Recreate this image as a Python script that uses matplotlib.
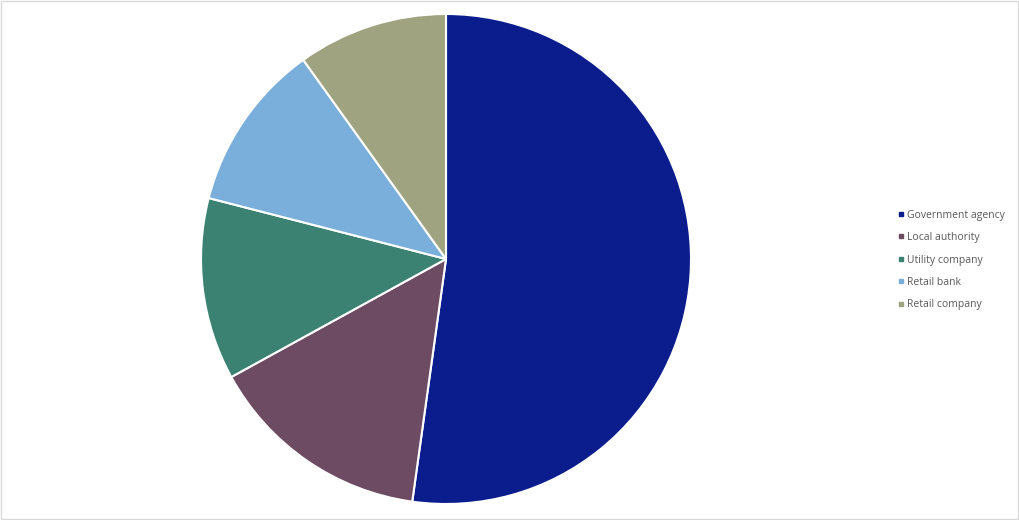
import matplotlib.pyplot as plt
from matplotlib.lines import Line2D
from matplotlib.patches import Rectangle

labels = ['Government agency', 'Local authority', 'Utility company', 'Retail bank', 'Retail company']
values = [52.2, 14.8, 12.0, 11.1, 9.9]
colors = ['#0B1D8C', '#6D4B63', '#3B8272', '#7AAEDB', '#9FA37F']

plt.rcParams['font.family'] = ['Open Sans', 'DejaVu Sans']

fig = plt.figure(figsize=(10.2, 5.2), dpi=100)
# pie centred at (446, 259) px, radius ~245 px
ax = fig.add_axes([(446 - 245) / 1020, 1 - (259 + 245) / 520, 490 / 1020, 490 / 520])
ax.pie(values, colors=colors, startangle=90, counterclock=False,
       wedgeprops=dict(edgecolor='white', linewidth=1.5), radius=1.0)
ax.set_xlim(-1.0, 1.0)
ax.set_ylim(-1.0, 1.0)
ax.set_aspect('equal')

handles = [Line2D([0], [0], marker='s', linestyle='none', markersize=3.5,
                  markerfacecolor=c, markeredgecolor=c) for c in colors]
fig.legend(handles, labels, loc='center left', bbox_to_anchor=(0.872, 0.50),
           frameon=False, fontsize=7.5, labelcolor='#595959', handlelength=0.5,
           handletextpad=0.3, labelspacing=1.1)

# thin chart border
fig.patches.append(Rectangle((0.0005, 0.001), 0.998, 0.997, transform=fig.transFigure,
                             fill=False, edgecolor='#D9D9D9', linewidth=1))

fig.savefig('out.png', dpi=100)
